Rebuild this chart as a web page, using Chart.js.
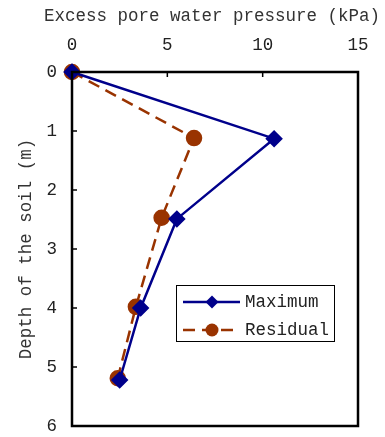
<!DOCTYPE html>
<html>
<head>
<meta charset="utf-8">
<script src="https://cdn.jsdelivr.net/npm/chart.js@4"></script>
<style>
  html, body { margin: 0; padding: 0; background: #fff; }
  #wrap { position: relative; width: 385px; height: 437px; }
</style>
</head>
<body>
<div id="wrap"><canvas id="chart" width="385" height="437"></canvas></div>
<script>
// Excess pore water pressure vs depth
const seriesNames = ['Maximum', 'Residual'];
const maxPressure = [0, 10.6, 5.5, 3.6, 2.5];
const maxDepth = [0, 1.13, 2.49, 4.0, 5.22];
const resPressure = [0, 6.4, 4.7, 3.35, 2.4];
const resDepth = [0, 1.12, 2.47, 3.98, 5.19];
const xTicks = [0, 5, 10, 15];
const yTicks = [0, 1, 2, 3, 4, 5, 6];
const xTitle = 'Excess pore water pressure (kPa)';
const yTitle = 'Depth of the soil (m)';

const FONT = "'Liberation Mono', monospace";
const FSIZE = 17.5;

function toPoints(xs, ys) {
    return xs.map((x, i) => ({ x: x, y: ys[i] }));
}

// box around the plot area, inward tick marks, and the top title
// (scale titles get squeezed to the axis width, so it is drawn here)
const frame = {
    id: 'frame',
    afterDraw(chart) {
        const { ctx, chartArea: a, scales } = chart;
        ctx.save();
        ctx.strokeStyle = '#000';
        ctx.lineWidth = 1.5;
        xTicks.forEach(v => {
            const px = scales.x.getPixelForValue(v);
            ctx.beginPath();
            ctx.moveTo(px, a.top);
            ctx.lineTo(px, a.top + 5);
            ctx.stroke();
        });
        yTicks.forEach(v => {
            const py = scales.y.getPixelForValue(v);
            ctx.beginPath();
            ctx.moveTo(a.left, py);
            ctx.lineTo(a.left + 5, py);
            ctx.stroke();
        });
        ctx.lineWidth = 2.5;
        ctx.strokeRect(a.left, a.top, a.right - a.left, a.bottom - a.top);

        ctx.fillStyle = '#333';
        ctx.font = FSIZE + 'px ' + FONT;
        ctx.textAlign = 'center';
        ctx.textBaseline = 'middle';
        ctx.fillText(xTitle, 212, 16);
        ctx.restore();
    }
};

// legend drawn like the original: line + marker sample, boxed
const boxLegend = {
    id: 'boxLegend',
    afterDraw(chart) {
        const ctx = chart.ctx;
        const x0 = 176, y0 = 285, w = 158, h = 56;
        ctx.save();
        ctx.fillStyle = '#fff';
        ctx.fillRect(x0, y0, w, h);
        ctx.strokeStyle = '#000';
        ctx.lineWidth = 1;
        ctx.strokeRect(x0 + 0.5, y0 + 0.5, w, h);
        chart.data.datasets.forEach((ds, i) => {
            const cy = y0 + 17 + i * 28;
            ctx.strokeStyle = ds.borderColor;
            ctx.lineWidth = 2.5;
            ctx.setLineDash(ds.borderDash || []);
            ctx.beginPath();
            ctx.moveTo(x0 + 7, cy);
            ctx.lineTo(x0 + 64, cy);
            ctx.stroke();
            ctx.setLineDash([]);
            ctx.fillStyle = ds.pointBackgroundColor;
            const mx = x0 + 36;
            if (ds.pointStyle === 'rectRot') {
                ctx.beginPath();
                ctx.moveTo(mx, cy - 6.5);
                ctx.lineTo(mx + 6.5, cy);
                ctx.lineTo(mx, cy + 6.5);
                ctx.lineTo(mx - 6.5, cy);
                ctx.closePath();
                ctx.fill();
            } else {
                ctx.beginPath();
                ctx.arc(mx, cy, 6.5, 0, Math.PI * 2);
                ctx.fill();
            }
            ctx.fillStyle = '#222';
            ctx.font = FSIZE + 'px ' + FONT;
            ctx.textBaseline = 'middle';
            ctx.fillText(ds.label, x0 + 69, cy);
        });
        ctx.restore();
    }
};

new Chart(document.getElementById('chart'), {
    type: 'line',
    data: {
        datasets: [{
            label: seriesNames[0],
            data: toPoints(maxPressure, maxDepth),
            borderColor: '#00008b',
            backgroundColor: '#00008b',
            pointBackgroundColor: '#00008b',
            pointBorderColor: '#00008b',
            pointStyle: 'rectRot',
            pointRadius: 7,
            borderWidth: 2.5,
            tension: 0
        }, {
            label: seriesNames[1],
            data: toPoints(resPressure, resDepth),
            borderColor: '#993300',
            backgroundColor: '#993300',
            pointBackgroundColor: '#993300',
            pointBorderColor: '#993300',
            pointStyle: 'circle',
            pointRadius: 7,
            borderWidth: 2.5,
            borderDash: [12, 7],
            tension: 0
        }]
    },
    options: {
        responsive: false,
        animation: false,
        clip: false,
        layout: { padding: { left: 16, right: 27, top: 36, bottom: 11 } },
        plugins: {
            legend: { display: false },
            tooltip: { enabled: false }
        },
        scales: {
            x: {
                type: 'linear',
                position: 'top',
                min: 0,
                max: 15,
                afterBuildTicks: s => { s.ticks = xTicks.map(v => ({ value: v })); },
                afterFit: s => { s.height = 36; s.paddingLeft = 0; s.paddingRight = 0; },
                grid: { display: false, drawTicks: false },
                border: { display: false },
                ticks: {
                    color: '#222',
                    font: { family: FONT, size: FSIZE },
                    padding: 16
                }
            },
            y: {
                type: 'linear',
                reverse: true,
                min: 0,
                max: 6,
                afterBuildTicks: s => { s.ticks = yTicks.map(v => ({ value: v })); },
                afterFit: s => { s.width = 56; s.paddingTop = 0; s.paddingBottom = 0; },
                grid: { display: false, drawTicks: false },
                border: { display: false },
                ticks: {
                    color: '#222',
                    font: { family: FONT, size: FSIZE },
                    padding: 15
                },
                title: {
                    display: true,
                    text: yTitle,
                    color: '#333',
                    font: { family: FONT, size: FSIZE },
                    padding: { top: 0, bottom: 0 }
                }
            }
        }
    },
    plugins: [frame, boxLegend]
});
</script>
</body>
</html>
